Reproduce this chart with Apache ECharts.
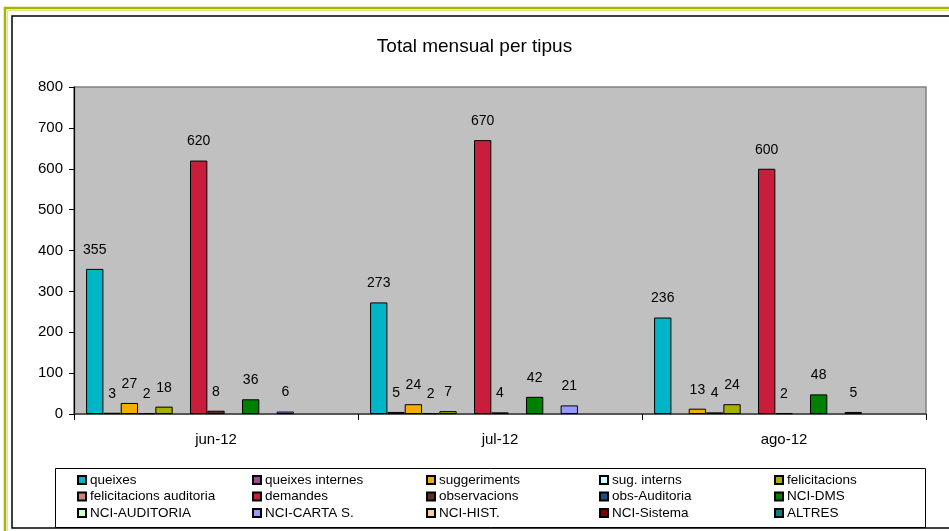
<!DOCTYPE html>
<html>
<head>
<meta charset="utf-8">
<script src="https://cdn.jsdelivr.net/npm/echarts@6/dist/echarts.min.js"></script>
<style>
html,body{margin:0;padding:0;background:#fff;}
#c{width:949px;height:531px;}
</style>
</head>
<body>
<div id="c"></div>
<script>
const categories = ['jun-12', 'jul-12', 'ago-12'];
const seriesNames = ['queixes', 'queixes internes', 'suggeriments', 'sug. interns', 'felicitacions',
  'felicitacions auditoria', 'demandes', 'observacions', 'obs-Auditoria', 'NCI-DMS',
  'NCI-AUDITORIA', 'NCI-CARTA S.', 'NCI-HIST.', 'NCI-Sistema', 'ALTRES'];
const queixes = [355, 273, 236];
const queixesInternes = [3, 5, null];
const suggeriments = [27, 24, 13];
const sugInterns = [2, 2, 4];
const felicitacions = [18, 7, 24];
const felicitacionsAuditoria = [null, null, null];
const demandes = [620, 670, 600];
const observacions = [8, 4, 2];
const obsAuditoria = [null, null, null];
const nciDMS = [36, 42, 48];
const nciAuditoria = [null, null, null];
const nciCarta = [6, 21, 5];
const nciHist = [null, null, null];
const nciSistema = [null, null, null];
const altres = [null, null, null];
const yTicks = [0, 100, 200, 300, 400, 500, 600, 700, 800];

const seriesData = [queixes, queixesInternes, suggeriments, sugInterns, felicitacions,
  felicitacionsAuditoria, demandes, observacions, obsAuditoria, nciDMS,
  nciAuditoria, nciCarta, nciHist, nciSistema, altres];
const colors = ['#00b5c5', '#9a4a96', '#f0b000', '#ccffff', '#a5b000',
  '#cc8080', '#c81e3c', '#5a3220', '#1f4f7f', '#008000',
  '#ccffcc', '#9999ff', '#ffcc99', '#800000', '#008080'];

const FONT = '"Liberation Sans", Arial, sans-serif';

const series = seriesNames.map((n, i) => ({
  name: n,
  type: 'bar',
  data: seriesData[i],
  barGap: 0,
  barCategoryGap: '8.5%',
  itemStyle: { color: colors[i], borderColor: '#000', borderWidth: 1 },
  label: { show: true, position: 'top', distance: 12, color: '#000', fontSize: 14, fontFamily: FONT },
  emphasis: { disabled: true },
  animation: false
}));

const colLeft = [77, 252, 426, 599, 774];
const legends = colLeft.map((x, c) => ({
  orient: 'vertical',
  left: x,
  top: 472,
  padding: 0,
  itemGap: 0.5,
  itemWidth: 8,
  itemHeight: 8,
  icon: 'rect',
  selectedMode: false,
  textStyle: { fontSize: 13.5, fontFamily: FONT, color: '#000', lineHeight: 16, padding: [0, 0, 0, -1] },
  data: [seriesNames[c], seriesNames[c + 5], seriesNames[c + 10]]
}));

const chart = echarts.init(document.getElementById('c'));
chart.setOption({
  animation: false,
  backgroundColor: '#fff',
  title: {
    text: 'Total mensual per tipus',
    left: 'center',
    top: 37,
    padding: 0,
    textStyle: { fontSize: 19, fontWeight: 'normal', fontFamily: FONT, color: '#000' }
  },
  legend: legends,
  grid: {
    left: 74, top: 87, right: 23, bottom: 117,
    show: true, backgroundColor: '#c0c0c0', borderColor: '#808080', borderWidth: 1.5
  },
  xAxis: {
    type: 'category',
    data: categories,
    axisLine: { lineStyle: { color: '#404040', width: 1.5 } },
    axisTick: { show: true, length: 6, lineStyle: { color: '#000' } },
    axisLabel: { color: '#000', fontSize: 15, fontFamily: FONT, margin: 18 }
  },
  yAxis: {
    type: 'value',
    min: yTicks[0],
    max: yTicks[yTicks.length - 1],
    interval: yTicks[1] - yTicks[0],
    axisLine: { show: true, lineStyle: { color: '#000', width: 1.2 } },
    axisTick: { show: true, length: 5, lineStyle: { color: '#000' } },
    splitLine: { show: false },
    axisLabel: { color: '#000', fontSize: 15, fontFamily: FONT, margin: 11 }
  },
  graphic: [
    { type: 'rect', silent: true, z: -10, shape: { x: 5, y: 8, width: 1000, height: 600 },
      style: { fill: null, stroke: '#a8b400', lineWidth: 2.5 } },
    { type: 'rect', silent: true, z: -10, shape: { x: 7.5, y: 10.5, width: 1000, height: 600 },
      style: { fill: null, stroke: '#dfe38a', lineWidth: 1 } },
    { type: 'rect', silent: true, z: -10, shape: { x: 12, y: 16, width: 1000, height: 512 },
      style: { fill: null, stroke: '#000', lineWidth: 1.5 } },
    { type: 'rect', silent: true, z: -5, shape: { x: 55.5, y: 468.5, width: 870, height: 59 },
      style: { fill: '#fff', stroke: '#000', lineWidth: 1 } }
  ],
  series: series
});
</script>
</body>
</html>
